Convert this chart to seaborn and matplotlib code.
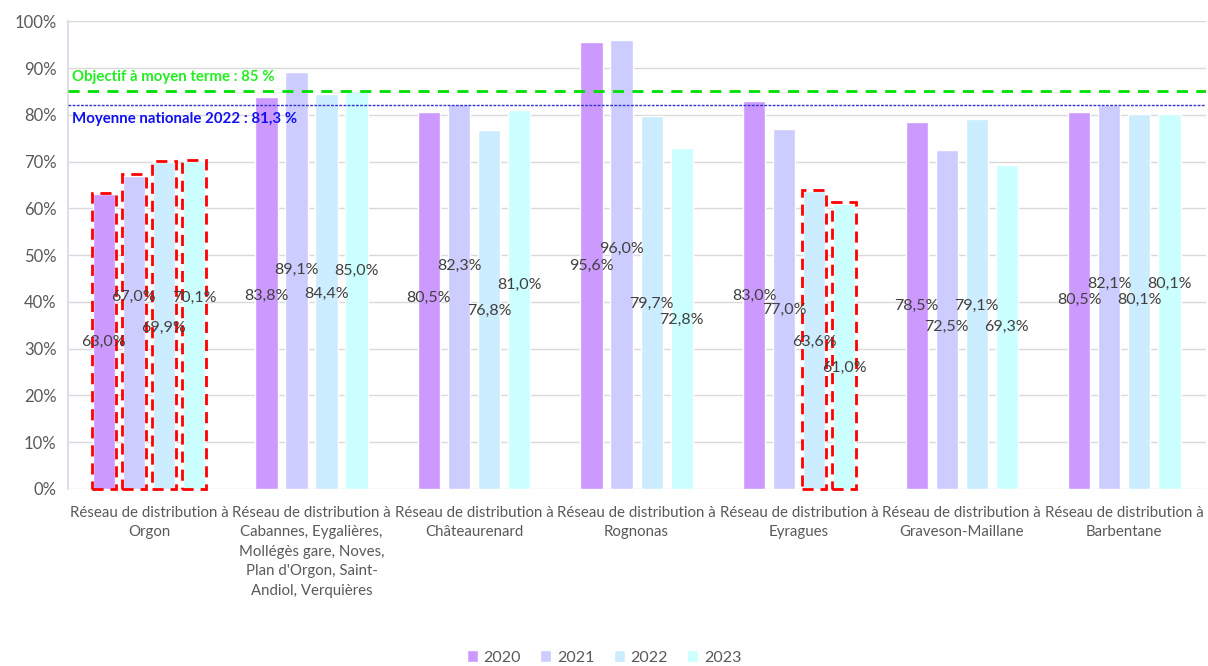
import matplotlib
matplotlib.use("Agg")
import matplotlib.pyplot as plt
import seaborn as sns
import pandas as pd
from matplotlib.patches import Rectangle

categories = [
    "Réseau de distribution à Orgon",
    "Réseau de distribution à Cabannes, Eygalières, Mollégès gare, Noves, Plan d'Orgon, Saint-Andiol, Verquières",
    "Réseau de distribution à Châteaurenard",
    "Réseau de distribution à Rognonas",
    "Réseau de distribution à Eyragues",
    "Réseau de distribution à Graveson-Maillane",
    "Réseau de distribution à Barbentane",
]
tick_labels = [
    "Réseau de distribution à\nOrgon",
    "Réseau de distribution à\nCabannes, Eygalières,\nMollégès gare, Noves,\nPlan d'Orgon, Saint-\nAndiol, Verquières",
    "Réseau de distribution à\nChâteaurenard",
    "Réseau de distribution à\nRognonas",
    "Réseau de distribution à\nEyragues",
    "Réseau de distribution à\nGraveson-Maillane",
    "Réseau de distribution à\nBarbentane",
]
years = ["2020", "2021", "2022", "2023"]
v2020 = [63.0, 83.8, 80.5, 95.6, 83.0, 78.5, 80.5]
v2021 = [67.0, 89.1, 82.3, 96.0, 77.0, 72.5, 82.1]
v2022 = [69.9, 84.4, 76.8, 79.7, 63.6, 79.1, 80.1]
v2023 = [70.1, 85.0, 81.0, 72.8, 61.0, 69.3, 80.1]
# vertical position (in %) of each value label
lab2020 = [31.4, 41.2, 40.8, 47.6, 41.2, 39.1, 40.4]
lab2021 = [41.0, 46.8, 47.6, 51.3, 38.2, 34.6, 43.8]
lab2022 = [34.4, 41.7, 38.0, 39.5, 31.4, 39.1, 40.4]
lab2023 = [40.8, 46.6, 43.6, 36.1, 25.9, 34.6, 43.8]
objectif = 85.0
moyenne_line = 82.0
objectif_label = "Objectif à moyen terme : 85 %"
moyenne_label = "Moyenne nationale 2022 : 81,3 %"
# bars flagged with a red dashed frame: (category index, year index)
highlighted = [(0, 0), (0, 1), (0, 2), (0, 3), (4, 2), (4, 3)]

colors = ["#CC99FF", "#CCCCFF", "#CCECFF", "#CCFFFF"]

values = [v2020, v2021, v2022, v2023]
labpos = [lab2020, lab2021, lab2022, lab2023]
rows = []
for y, vals in zip(years, values):
    for c, v in zip(categories, vals):
        rows.append({"cat": c, "year": y, "val": v})
df = pd.DataFrame(rows)

sns.set_theme(style="white")
plt.rcParams["font.family"] = ["Lato", "DejaVu Sans"]

fig = plt.figure(figsize=(12.08, 6.66), dpi=100)
ax = fig.add_axes([0.056, 0.266, 0.942, 0.702])

sns.barplot(data=df, x="cat", y="val", hue="year", order=categories,
            hue_order=years, palette=colors, width=0.74, gap=0.26,
            saturation=1, ax=ax, legend=True, zorder=2)

ax.set_ylim(0, 100)
ax.set_xlim(-0.5, 6.5)
ax.set_yticks(range(0, 101, 10))
ax.set_yticklabels([f"{t}%" for t in range(0, 101, 10)], color="#595959", fontsize=12)
ax.set_xticks(range(len(categories)))
ax.set_xticklabels(tick_labels, color="#595959", fontsize=10.8, linespacing=1.5)
ax.tick_params(axis="x", length=0, pad=12)
ax.tick_params(axis="y", length=0, pad=8)
ax.set_xlabel("")
ax.set_ylabel("")
ax.grid(axis="y", color="#D9D9D9", linewidth=1, zorder=0)
ax.set_axisbelow(True)
for s in ["top", "right", "bottom"]:
    ax.spines[s].set_visible(False)
ax.spines["left"].set_color("#D9D9E9")

# value labels
for hi, cont in enumerate(ax.containers):
    for ci, bar in enumerate(cont):
        xc = bar.get_x() + bar.get_width() / 2
        ax.text(xc, labpos[hi][ci], f"{values[hi][ci]:.1f}%".replace(".", ","),
                ha="center", va="center", fontsize=11.5, color="#404040", zorder=5)

# red dashed frames
for ci, hi in highlighted:
    bar = ax.containers[hi][ci]
    pad = 0.005
    r = Rectangle((bar.get_x() - pad, 0), bar.get_width() + 2 * pad,
                  bar.get_height() + 0.3, fill=False, edgecolor="#FF0000",
                  linestyle=(0, (4, 2.5)), linewidth=2, zorder=4, clip_on=False)
    ax.add_patch(r)

# reference lines
ax.axhline(objectif, color="#00E000", linestyle=(0, (4, 3)), linewidth=2, zorder=3)
ax.axhline(moyenne_line, color="#3333CC", linestyle=(0, (2, 1)), linewidth=1, zorder=3)
ax.text(-0.475, objectif + 1.5, objectif_label, color="#22EE22", fontweight="bold",
        fontsize=10.8, ha="left", va="bottom", zorder=6)
ax.text(-0.475, moyenne_line - 1.5, moyenne_label, color="#1111EE", fontweight="bold",
        fontsize=10.8, ha="left", va="top", zorder=6)

leg = ax.legend(loc="center", ncol=4,
                frameon=False, fontsize=11.5, handlelength=0.7, handleheight=0.7,
                handletextpad=0.35, columnspacing=1.2, labelcolor="#595959")
leg.set_bbox_to_anchor((0.5, 8.5 / 666), transform=fig.transFigure)

fig.savefig("out.png", dpi=100)
